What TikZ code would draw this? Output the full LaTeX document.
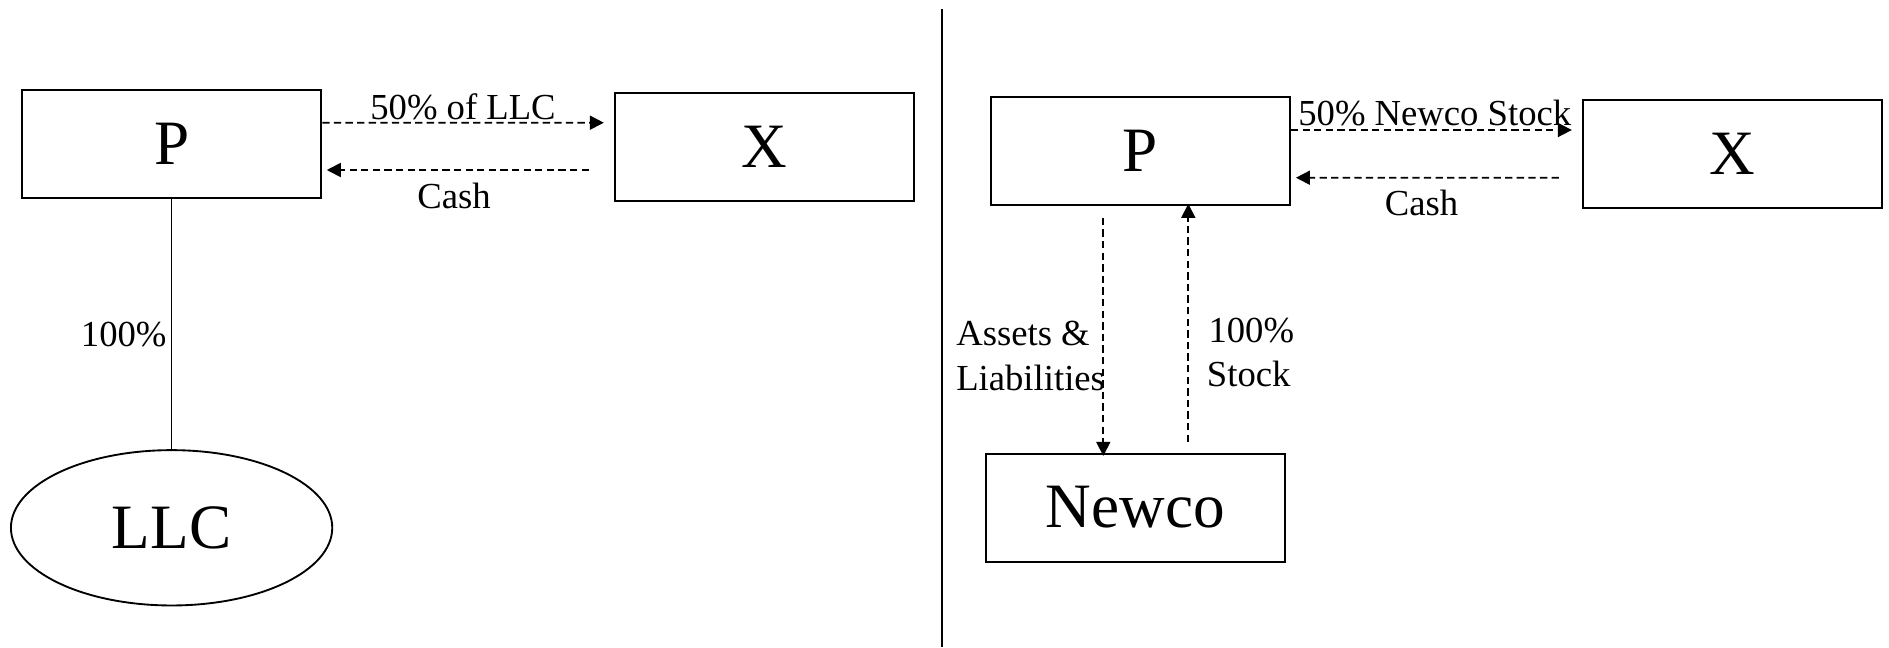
\documentclass[tikz,border=0pt]{standalone}
\usepackage{fontspec}
\setmainfont{Liberation Serif}
\usetikzlibrary{calc,arrows.meta,shapes.geometric}
\begin{document}
\begin{tikzpicture}[x=0.75pt,y=-0.75pt,
  box/.style={draw,line width=1.5pt,inner sep=0pt,minimum width=224.5pt,minimum height=81pt,font=\fontsize{47.4}{56}\selectfont},
  oval/.style={draw,ellipse,line width=1.4pt,inner sep=0pt,minimum width=241pt,minimum height=116.5pt,font=\fontsize{47.4}{56}\selectfont},
  lbl/.style={inner sep=0pt,font=\fontsize{27.5}{34}\selectfont},
  flow/.style={dashed,dash pattern=on 5.5pt off 3.2pt,line width=1.3pt,-{Triangle[length=10.5pt,width=10.5pt]}},
  own/.style={line width=1.3pt},
  divider/.style={line width=1.6pt}]
\useasboundingbox (0,0) rectangle (1889,647);

% left side
\node[box] (lp) at (171.6,144.15) {P};
\node[box] (lx) at (764.5,146.85) {X};
\node[oval] (llc) at (171.6,527.8) {LLC};
\draw[own] (lp.south) -- (llc.north);
\draw[flow] ($(lp.east)+(0,-21.45)$) -- ($(lx.west)+(-10,-24.15)$);
\draw[flow] ($(lx.west)+(-25,23.15)$) -- ($(lp.east)+(4.5,25.85)$);
\node[lbl,anchor=base] (l50) at (463,119.3) {50\% of LLC};
\node[lbl,anchor=base] (lcash) at (454,208.3) {Cash};
\node[lbl,anchor=base west] (l100) at (80.7,346.7) {100\%};

% divider
\coordinate (dtop) at (941.7,9.3);
\coordinate (dbot) at (941.7,647);
\draw[divider] (dtop) -- (dbot);

% right side
\node[box] (rp) at (1140.25,151.15) {P};
\node[box] (rx) at (1732.5,153.5) {X};
\node[box] (nc) at (1135.35,507.5) {Newco};
\draw[flow] ($(rp.east)+(0,-21.15)$) -- ($(rx.west)+(-10,-23.5)$);
\draw[flow] ($(rx.west)+(-23,24.2)$) -- ($(rp.east)+(5,26.55)$);
\draw[flow] ($(rp.south)+(-36.95,11.7)$) -- ($(nc.north)+(-32.05,3.4)$);
\draw[flow] ($(nc.north)+(52.95,-10.6)$) -- ($(rp.south)+(48.05,-2.3)$);
\node[lbl,anchor=base] (r50) at (1434.8,125) {50\% Newco Stock};
\node[lbl,anchor=base] (rcash) at (1421.6,215) {Cash};
\node[lbl,anchor=base west] (ra1) at (956,345) {Assets \&};
\node[lbl,anchor=base west] (ra2) at (956,390.7) {Liabilities};
\node[lbl,anchor=base west] (rs1) at (1208.3,342.7) {100\%};
\node[lbl,anchor=base west] (rs2) at (1206.7,386.7) {Stock};
\end{tikzpicture}
\end{document}
